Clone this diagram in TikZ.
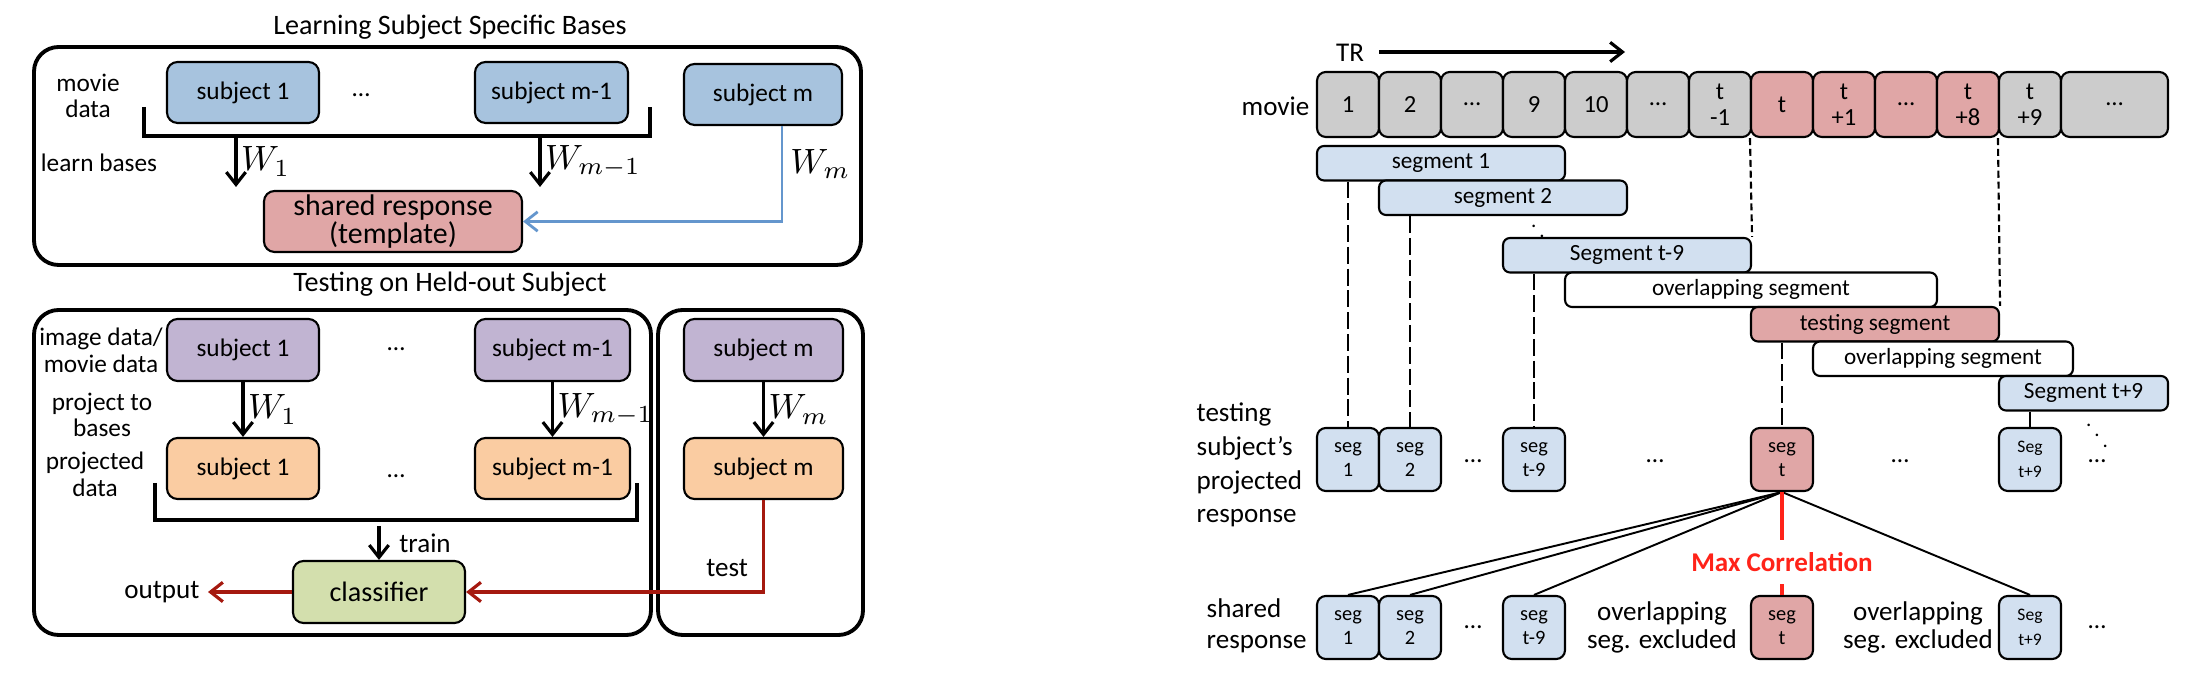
\documentclass[tikz,border=0pt]{standalone}
\usepackage{fontspec}
\setmainfont{Carlito}
\usetikzlibrary{arrows.meta}

\definecolor{subjblue}{RGB}{167,195,222}
\definecolor{sharedred}{RGB}{224,166,166}
\definecolor{subjpurple}{RGB}{193,180,210}
\definecolor{subjorange}{RGB}{250,204,162}
\definecolor{clsgreen}{RGB}{211,223,173}
\definecolor{moviegray}{RGB}{204,204,204}
\definecolor{seglight}{RGB}{210,224,240}
\definecolor{wmblue}{RGB}{100,150,205}
\definecolor{testred}{RGB}{165,25,15}
\definecolor{corrred}{RGB}{255,35,25}

\tikzset{
  panel/.style={shape=rectangle, draw, line width=1.1pt, rounded corners=7pt, inner sep=0},
  subjbox/.style={shape=rectangle, draw, line width=0.6pt, rounded corners=3pt, inner sep=0, minimum height=0.61cm, align=center, font=\fontsize{7.2}{8}\selectfont},
  lbl/.style={align=center, inner sep=0, font=\fontsize{7.2}{7.6}\selectfont},
  rlbl/.style={align=left, inner sep=0, font=\fontsize{7.7}{9.6}\selectfont},
  cell/.style={shape=rectangle, draw, line width=0.6pt, rounded corners=2.5pt, inner sep=0, minimum width=0.62cm, minimum height=0.65cm, fill=moviegray, align=center, font=\fontsize{7}{7.4}\selectfont},
  segbar/.style={shape=rectangle, draw, line width=0.6pt, rounded corners=2pt, inner sep=0, minimum height=0.345cm, font=\fontsize{6.6}{7}\selectfont},
  segbox/.style={shape=rectangle, draw, line width=0.6pt, rounded corners=2.5pt, inner sep=0, minimum width=0.62cm, minimum height=0.63cm, fill=seglight, align=center, font=\fontsize{5.8}{7}\selectfont},
  barb/.style={-{Straight Barb[length=3.5pt,width=5.5pt]}, line width=0.9pt},
  longdash/.style={line width=0.6pt, dash pattern={on 4.8pt off 1.4pt}},
  shortdash/.style={line width=0.6pt, dash pattern={on 2pt off 1.1pt}},
}

\begin{document}
\begin{tikzpicture}
        \useasboundingbox (0, 0) rectangle (21.94, 6.76);
        % Learning subject specific bases:
        \node[lbl, font=\fontsize{8}{9}\selectfont] (ttllearn) at (4.50, 6.49) {Learning Subject Specific Bases};
        \node[panel, minimum width=8.27cm, minimum height=2.18cm] (learnbox) at (4.475, 5.20) {};
        \node[lbl] (moviedata) at (0.88, 5.80) {movie\\data};
        \node[lbl] (learnbases) at (0.99, 5.13) {learn bases};
        \node[subjbox, fill=subjblue, minimum width=1.52cm] (la1) at (2.43, 5.835) {subject 1};
        \node[lbl] (ladots) at (3.61, 5.81) {\dots};
        \node[subjbox, fill=subjblue, minimum width=1.53cm] (lam1) at (5.515, 5.835) {subject m-1};
        \node[subjbox, fill=subjblue, minimum width=1.58cm] (lam) at (7.63, 5.815) {subject m};
        \node[subjbox, fill=sharedred, minimum width=2.58cm, font=\fontsize{8.5}{8.2}\selectfont] (shared) at (3.93, 4.545) {shared response\\(template)};
        \coordinate (lbrl) at (1.44, 5.69);
        \coordinate (lbrbl) at (1.44, 5.40);
        \coordinate (lbrbr) at (6.50, 5.40);
        \coordinate (lbrr) at (6.50, 5.69);
        \draw[line width=0.9pt] (lbrl) -- (lbrbl) -- (lbrbr) -- (lbrr);
        \coordinate (lw1s) at (2.36, 5.40);
        \coordinate (lw1e) at (2.36, 4.89);
        \coordinate (lwm1s) at (5.40, 5.40);
        \coordinate (lwm1e) at (5.40, 4.89);
        \draw[barb] (lw1s) -- (lw1e) node[midway, right, inner sep=1pt] {$W_1$};
        \draw[barb] (lwm1s) -- (lwm1e) node[midway, right, inner sep=1pt] {$W_{m-1}$};
        \draw[wmblue, barb, line width=0.8pt] ([xshift=0.19cm]lam.south) |- (shared.east) node[pos=0.2, right, inner sep=2pt, black] {$W_m$};

        % Testing on held-out subject:
        \node[lbl, font=\fontsize{8}{9}\selectfont] (ttltest) at (4.50, 3.92) {Testing on Held-out Subject};
        \node[panel, minimum width=6.17cm, minimum height=3.25cm] (trainbox) at (3.425, 2.035) {};
        \node[panel, minimum width=2.05cm, minimum height=3.25cm] (testbox) at (7.605, 2.035) {};
        \node[lbl] (imagedata) at (1.01, 3.26) {image data/\\movie data};
        \node[lbl] (projbases) at (1.02, 2.61) {project to\\bases};
        \node[lbl] (projdata) at (0.95, 2.02) {projected\\data};
        \node[subjbox, fill=subjpurple, minimum width=1.52cm, minimum height=0.62cm] (pu1) at (2.43, 3.26) {subject 1};
        \node[lbl] (pudots) at (3.96, 3.27) {\dots};
        \node[subjbox, fill=subjpurple, minimum width=1.55cm, minimum height=0.62cm] (pum1) at (5.525, 3.26) {subject m-1};
        \node[subjbox, fill=subjpurple, minimum width=1.59cm, minimum height=0.62cm] (pum) at (7.635, 3.26) {subject m};
        \node[subjbox, fill=subjorange, minimum width=1.52cm] (or1) at (2.43, 2.075) {subject 1};
        \node[lbl] (ordots) at (3.96, 2.00) {\dots};
        \node[subjbox, fill=subjorange, minimum width=1.55cm] (orm1) at (5.525, 2.075) {subject m-1};
        \node[subjbox, fill=subjorange, minimum width=1.59cm] (orm) at (7.635, 2.075) {subject m};
        \draw[barb] (pu1) -- (or1) node[midway, right, inner sep=1pt] {$W_1$};
        \draw[barb] (pum1) -- (orm1) node[midway, right, inner sep=1pt] {$W_{m-1}$};
        \draw[barb] (pum) -- (orm) node[midway, right, inner sep=1pt] {$W_m$};
        \coordinate (tbrl) at (1.55, 1.93);
        \coordinate (tbrbl) at (1.55, 1.56);
        \coordinate (tbrbr) at (6.37, 1.56);
        \coordinate (tbrr) at (6.37, 1.93);
        \draw[line width=0.9pt] (tbrl) -- (tbrbl) -- (tbrbr) -- (tbrr);
        \node[subjbox, fill=clsgreen, minimum width=1.72cm, minimum height=0.62cm, font=\fontsize{8}{9}\selectfont] (clf) at (3.79, 0.84) {classifier};
        \coordinate (trtop) at (3.79, 1.50);
        \draw[barb] (trtop) -- (clf.north) node[midway, right=2pt, font=\fontsize{7.7}{9}\selectfont] {train};
        \coordinate (outtip) at (2.08, 0.84);
        \draw[testred, barb] (clf.west) -- (outtip) node[left, inner sep=2pt, black, font=\fontsize{7.7}{9}\selectfont] {output};
        \draw[testred, barb] (orm.south) |- (clf.east) node[pos=0.37, left, inner sep=4pt, black, font=\fontsize{7.7}{9}\selectfont] {test};

        % Movie and segments:
        \node[font=\fontsize{7.7}{9}\selectfont, inner sep=0] (trlbl) at (13.50, 6.23) {TR};
        \coordinate (trs) at (13.79, 6.24);
        \coordinate (tre) at (16.25, 6.24);
        \draw[barb] (trs) -- (tre);
        \node[rlbl, anchor=east] (movielbl) at (13.10, 5.70) {movie};
        \node[cell] (c0) at (13.48, 5.715) {1};
        \node[cell] (c1) at (14.10, 5.715) {2};
        \node[cell] (c2) at (14.72, 5.715) {\dots};
        \node[cell] (c3) at (15.34, 5.715) {9};
        \node[cell] (c4) at (15.96, 5.715) {10};
        \node[cell] (c5) at (16.58, 5.715) {\dots};
        \node[cell] (c6) at (17.20, 5.715) {t\\-1};
        \node[cell, fill=sharedred] (c7) at (17.82, 5.715) {t};
        \node[cell, fill=sharedred] (c8) at (18.44, 5.715) {t\\+1};
        \node[cell, fill=sharedred] (c9) at (19.06, 5.715) {\dots};
        \node[cell, fill=sharedred] (c10) at (19.68, 5.715) {t\\+8};
        \node[cell] (c11) at (20.30, 5.715) {t\\+9};
        \node[cell, minimum width=1.07cm] (c12) at (21.145, 5.715) {\dots};
        \node[segbar, fill=seglight, minimum width=2.48cm] (sg1) at (14.41, 5.1275) {segment 1};
        \node[segbar, fill=seglight, minimum width=2.48cm] (sg2) at (15.03, 4.7825) {segment 2};
        \node[inner sep=0, font=\fontsize{6}{7}\selectfont] (sgdots) at (15.42, 4.50) {$\ddots$};
        \node[segbar, fill=seglight, minimum width=2.48cm] (sgt9) at (16.27, 4.2075) {Segment t-9};
        \node[segbar, fill=white, minimum width=3.72cm] (ov1) at (17.51, 3.8625) {overlapping segment};
        \node[segbar, fill=sharedred, minimum width=2.48cm] (sgt) at (18.75, 3.5175) {testing segment};
        \node[segbar, fill=white, minimum width=2.60cm] (ov2) at (19.43, 3.1725) {overlapping segment};
        \node[segbar, fill=seglight, minimum width=1.69cm] (sgt9p) at (20.835, 2.8275) {Segment t+9};
        \node[inner sep=0, font=\fontsize{6}{7}\selectfont] (sgdotsb) at (20.97, 2.51) {$\ddots$};
        \draw[shortdash] (c7.south west) -- (sgt9.north east);
        \draw[shortdash] (c11.south west) -- (sgt.north east);

        % Projected response and shared response:
        \node[rlbl, anchor=west] (projresp) at (11.96, 2.11) {testing\\subject's\\projected\\response};
        \node[rlbl, anchor=west, font=\fontsize{7.7}{8.9}\selectfont] (sharedresp) at (12.06, 0.50) {shared\\response};
        \node[segbox] (p1) at (13.48, 2.165) {seg\\1};
        \node[segbox] (p2) at (14.10, 2.165) {seg\\2};
        \node[segbox] (pt9) at (15.34, 2.165) {seg\\t-9};
        \node[segbox, fill=sharedred] (pt) at (17.82, 2.165) {seg\\t};
        \node[segbox, font=\fontsize{5}{7}\selectfont] (pt9p) at (20.30, 2.165) {Seg\\t+9};
        \node[segbox] (q1) at (13.48, 0.485) {seg\\1};
        \node[segbox] (q2) at (14.10, 0.485) {seg\\2};
        \node[segbox] (qt9) at (15.34, 0.485) {seg\\t-9};
        \node[segbox, fill=sharedred] (qt) at (17.82, 0.485) {seg\\t};
        \node[segbox, font=\fontsize{5}{7}\selectfont] (qt9p) at (20.30, 0.485) {Seg\\t+9};
        \node[lbl] (pdots1) at (14.73, 2.15) {\dots};
        \node[lbl] (pdots2) at (16.55, 2.15) {\dots};
        \node[lbl] (pdots3) at (19.00, 2.15) {\dots};
        \node[lbl] (pdots4) at (20.97, 2.15) {\dots};
        \node[lbl] (qdots1) at (14.73, 0.49) {\dots};
        \node[lbl] (qdots2) at (20.97, 0.49) {\dots};
        \node[lbl, font=\fontsize{7.7}{8}\selectfont] (excl1) at (16.62, 0.49) {overlapping\\seg. excluded};
        \node[lbl, font=\fontsize{7.7}{8}\selectfont] (excl2) at (19.18, 0.49) {overlapping\\seg. excluded};
        \draw[longdash] (p1 |- sg1.south) -- (p1.north);
        \draw[longdash] (p2 |- sg2.south) -- (p2.north);
        \draw[longdash] (pt9 |- sgt9.south) -- (pt9.north);
        \draw[longdash] (pt |- sgt.south) -- (pt.north);
        \draw[line width=0.6pt] (pt9p |- sgt9p.south) -- (pt9p.north);
        \draw[line width=0.55pt] (pt.south) -- (q1.north);
        \draw[line width=0.55pt] (pt.south) -- (q2.north);
        \draw[line width=0.55pt] (pt.south) -- (qt9.north);
        \draw[line width=0.55pt] (pt.south) -- (qt9p.north);
        \draw[corrred, line width=1.2pt] (pt.south) -- node[pos=0.68, fill=white, inner xsep=5pt, inner ysep=3.5pt, font=\bfseries\fontsize{7.7}{9}\selectfont] {Max Correlation} (qt.north);
\end{tikzpicture}
\end{document}
